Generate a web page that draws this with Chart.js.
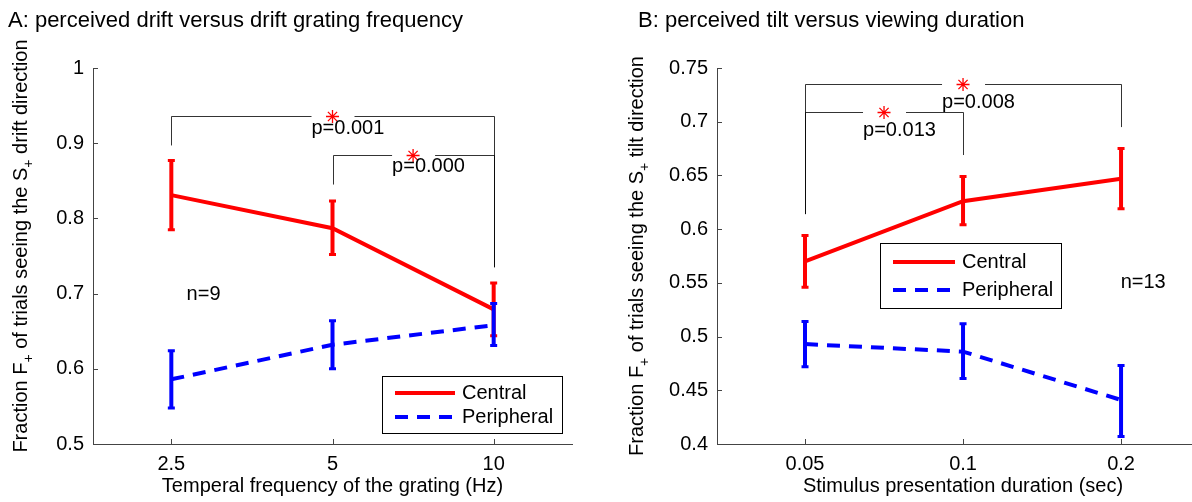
<!DOCTYPE html>
<html>
<head>
<meta charset="utf-8">
<script src="https://cdn.jsdelivr.net/npm/chart.js@4.4.0/dist/chart.umd.min.js"></script>
<style>
  html, body { margin: 0; padding: 0; background: #fff; overflow: hidden; }
  #wrapA { position: absolute; left: 0; top: 0; width: 600px; height: 502px; }
  #wrapB { position: absolute; left: 600px; top: 0; width: 592px; height: 502px; }
</style>
</head>
<body>
<div id="wrapA"><canvas id="chartA"></canvas></div>
<div id="wrapB"><canvas id="chartB"></canvas></div>
<script>
// ---- data, panel A ----
const freqLabels = ['2.5', '5', '10']
const centralA = [0.831, 0.787, 0.679]
const centralALow = [0.785, 0.752, 0.644]
const centralAHigh = [0.877, 0.823, 0.714]
const peripheralA = [0.586, 0.632, 0.658]
const peripheralALow = [0.548, 0.600, 0.631]
const peripheralAHigh = [0.624, 0.664, 0.687]
const yTicksA = [0.5, 0.6, 0.7, 0.8, 0.9, 1]

// ---- data, panel B ----
const durLabels = ['0.05', '0.1', '0.2']
const centralB = [0.570, 0.626, 0.647]
const centralBLow = [0.546, 0.604, 0.619]
const centralBHigh = [0.594, 0.649, 0.675]
const peripheralB = [0.493, 0.486, 0.441]
const peripheralBLow = [0.472, 0.461, 0.407]
const peripheralBHigh = [0.514, 0.512, 0.473]
const yTicksB = [0.4, 0.45, 0.5, 0.55, 0.6, 0.65, 0.7, 0.75]

const seriesNames = ['Central', 'Peripheral']

// significance brackets: from/to are category indexes
const bracketsA = [
  {from: 0, to: 2, y: 0.936, leftEnd: 0.897, rightEnd: 0.735, textY: 0.920, p: 'p=0.001'},
  {from: 1, to: 2, y: 0.884, leftEnd: 0.845, rightEnd: 0.735, textY: 0.869, p: 'p=0.000'}
]
const bracketsB = [
  {from: 0, to: 2, y: 0.735, leftEnd: 0.614, rightEnd: 0.695, textY: 0.718, p: 'p=0.008'},
  {from: 0, to: 1, y: 0.709, leftEnd: 0.614, rightEnd: 0.669, textY: 0.692, p: 'p=0.013'}
]

const FONT = '"Liberation Sans", Arial, Helvetica, sans-serif'
const FS = 20
const RED = '#ff0000'
const BLUE = '#0000ff'
const AXIS = '#444'

function fmtTick(v){
  return String(parseFloat(v.toFixed(2)))
}

// draws text pieces with subscripts, rotated -90deg, centred at cx,cy (baseline at cx)
function drawRotatedLabel(ctx, parts, cx, cy){
  ctx.save()
  ctx.translate(cx, cy)
  ctx.rotate(-Math.PI/2)
  let w = 0
  parts.forEach(p => {
    ctx.font = (p.sub ? '14px ' : FS + 'px ') + FONT
    w += ctx.measureText(p.t).width
  })
  let x = -w/2
  ctx.fillStyle = '#000'
  ctx.textBaseline = 'alphabetic'
  ctx.textAlign = 'left'
  parts.forEach(p => {
    ctx.font = (p.sub ? '14px ' : FS + 'px ') + FONT
    ctx.fillText(p.t, x, p.sub ? 6 : 0)
    x += ctx.measureText(p.t).width
  })
  ctx.restore()
}

function drawAsterisk(ctx, x, y, r){
  ctx.save()
  ctx.strokeStyle = RED
  ctx.lineWidth = 1.3
  ctx.beginPath()
  for(let k = 0; k < 4; k++){
    const a = k*Math.PI/4
    ctx.moveTo(x - r*Math.cos(a), y - r*Math.sin(a))
    ctx.lineTo(x + r*Math.cos(a), y + r*Math.sin(a))
  }
  ctx.stroke()
  ctx.restore()
}

const panelDecor = {
  id: 'panelDecor',
  afterDatasetDraw(chart, args, opts){
    const err = opts.errors[args.index]
    if(!err) return
    const ctx = chart.ctx
    const ys = chart.scales.y
    const color = chart.data.datasets[args.index].borderColor
    ctx.save()
    ctx.strokeStyle = color
    ctx.lineCap = 'butt'
    args.meta.data.forEach((pt, i) => {
      const yl = ys.getPixelForValue(err.low[i])
      const yh = ys.getPixelForValue(err.high[i])
      ctx.lineWidth = 4
      ctx.beginPath()
      ctx.moveTo(pt.x, yl)
      ctx.lineTo(pt.x, yh)
      ctx.stroke()
      ctx.lineWidth = 3
      ctx.beginPath()
      ctx.moveTo(pt.x - 3.5, yl); ctx.lineTo(pt.x + 3.5, yl)
      ctx.moveTo(pt.x - 3.5, yh); ctx.lineTo(pt.x + 3.5, yh)
      ctx.stroke()
    })
    ctx.restore()
  },
  afterDraw(chart, args, opts){
    const ctx = chart.ctx
    const xs = chart.scales.x, ys = chart.scales.y
    const area = chart.chartArea
    ctx.save()

    // inward tick marks
    ctx.strokeStyle = AXIS
    ctx.lineWidth = 1
    ctx.beginPath()
    ys.ticks.forEach(t => {
      const y = Math.round(ys.getPixelForValue(t.value)) + 0.5
      ctx.moveTo(area.left, y); ctx.lineTo(area.left + 5, y)
    })
    xs.ticks.forEach(t => {
      const x = Math.round(xs.getPixelForValue(t.value)) + 0.5
      ctx.moveTo(x, area.bottom); ctx.lineTo(x, area.bottom - 5)
    })
    ctx.stroke()

    // brackets
    opts.brackets.forEach(b => {
      const x0 = Math.round(xs.getPixelForValue(b.from)) + 0.5
      const x1 = Math.round(xs.getPixelForValue(b.to)) + 0.5
      const y = Math.round(ys.getPixelForValue(b.y)) + 0.5
      const mid = (xs.getPixelForValue(b.from) + xs.getPixelForValue(b.to))/2
      ctx.strokeStyle = '#000'
      ctx.lineWidth = 0.8
      ctx.beginPath()
      ctx.moveTo(x0, ys.getPixelForValue(b.leftEnd)); ctx.lineTo(x0, y); ctx.lineTo(mid - 21, y)
      ctx.moveTo(mid + 22, y); ctx.lineTo(x1, y); ctx.lineTo(x1, ys.getPixelForValue(b.rightEnd))
      ctx.stroke()
      drawAsterisk(ctx, mid, y, 6.5)
      ctx.fillStyle = '#000'
      ctx.font = FS + 'px ' + FONT
      ctx.textAlign = 'left'
      ctx.textBaseline = 'middle'
      ctx.fillText(b.p, mid - 21, ys.getPixelForValue(b.textY))
    })

    // n label
    ctx.fillStyle = '#000'
    ctx.font = FS + 'px ' + FONT
    ctx.textAlign = 'center'
    ctx.textBaseline = 'middle'
    ctx.fillText(opts.nText, xs.getPixelForValue(opts.nX), ys.getPixelForValue(opts.nY))

    // legend box
    const lg = opts.legend
    ctx.fillStyle = '#fff'
    ctx.fillRect(lg.x, lg.y, lg.w, lg.h)
    ctx.strokeStyle = '#000'
    ctx.lineWidth = 1
    ctx.strokeRect(lg.x + 0.5, lg.y + 0.5, lg.w, lg.h)
    chart.data.datasets.forEach((ds, i) => {
      const ly = lg.y + lg.rowY[i]
      ctx.strokeStyle = ds.borderColor
      ctx.lineWidth = 4
      ctx.setLineDash(ds.borderDash || [])
      ctx.beginPath()
      ctx.moveTo(lg.x + 13, ly); ctx.lineTo(lg.x + 13 + lg.sample, ly)
      ctx.stroke()
      ctx.setLineDash([])
      ctx.fillStyle = '#000'
      ctx.textAlign = 'left'
      ctx.textBaseline = 'middle'
      ctx.fillText(ds.label, lg.x + 20 + lg.sample, ly)
    })

    // panel title
    ctx.font = '22px ' + FONT
    ctx.textAlign = 'left'
    ctx.textBaseline = 'alphabetic'
    ctx.fillText(opts.title, opts.titleX, 27)

    // x axis title
    ctx.font = FS + 'px ' + FONT
    ctx.textAlign = 'center'
    ctx.textBaseline = 'alphabetic'
    ctx.fillText(opts.xTitle, xs.getPixelForValue(1), 492)

    // y axis title with subscripts
    drawRotatedLabel(ctx, [
      {t: 'Fraction F'}, {t: '+', sub: true},
      {t: ' of trials seeing the S'}, {t: '+', sub: true},
      {t: ' ' + opts.yWord + ' direction'}
    ], opts.yTitleX, opts.yTitleY)

    ctx.restore()
  }
}

function makePanel(id, cfg){
  return new Chart(document.getElementById(id), {
    type: 'line',
    data: {
      datasets: [
        {label: seriesNames[0], data: cfg.central.map((v, i) => ({x: i, y: v})),
         borderColor: RED, borderWidth: 4, pointRadius: 0, order: 2, fill: false, tension: 0},
        {label: seriesNames[1], data: cfg.peripheral.map((v, i) => ({x: i, y: v})),
         borderColor: BLUE, borderWidth: 4, borderDash: [13, 9], pointRadius: 0, order: 1, fill: false, tension: 0}
      ]
    },
    options: {
      responsive: true,
      maintainAspectRatio: false,
      animation: false,
      events: [],
      layout: {padding: {top: 68, right: cfg.padRight, left: 0, bottom: 0}},
      plugins: {
        legend: {display: false},
        tooltip: {enabled: false},
        panelDecor: {
          errors: [cfg.centralErr, cfg.peripheralErr],
          brackets: cfg.brackets,
          nText: cfg.nText, nX: cfg.nX, nY: cfg.nY,
          legend: cfg.legend,
          title: cfg.title, titleX: cfg.titleX,
          xTitle: cfg.xTitle,
          yWord: cfg.yWord, yTitleX: cfg.yTitleX, yTitleY: cfg.yTitleY
        }
      },
      scales: {
        x: {
          type: 'linear', min: cfg.xMin, max: cfg.xMax,
          afterBuildTicks: s => { s.ticks = cfg.labels.map((l, i) => ({value: i})) },
          afterFit: s => { s.height = 58 },
          grid: {display: true, drawOnChartArea: false, drawTicks: false},
          border: {display: true, color: AXIS, width: 1},
          ticks: {
            callback: v => cfg.labels[v],
            color: '#000', padding: 8, maxRotation: 0,
            font: {family: FONT, size: FS}
          }
        },
        y: {
          type: 'linear', min: cfg.yTicks[0], max: cfg.yTicks[cfg.yTicks.length - 1],
          afterBuildTicks: s => { s.ticks = cfg.yTicks.map(v => ({value: v})) },
          afterFit: s => { s.width = cfg.yWidth },
          grid: {display: true, drawOnChartArea: false, drawTicks: false},
          border: {display: true, color: AXIS, width: 1},
          ticks: {
            callback: v => fmtTick(v),
            color: '#000', padding: 9,
            font: {family: FONT, size: FS}
          }
        }
      }
    },
    plugins: [panelDecor]
  })
}

makePanel('chartA', {
  labels: freqLabels, yTicks: yTicksA,
  central: centralA, peripheral: peripheralA,
  centralErr: {low: centralALow, high: centralAHigh},
  peripheralErr: {low: peripheralALow, high: peripheralAHigh},
  brackets: bracketsA,
  xMin: -0.486, xMax: 2.486, yWidth: 93, padRight: 28,
  nText: 'n=9', nX: 0.2, nY: 0.699,
  legend: {x: 382, y: 376, w: 180, h: 57, rowY: [17, 41], sample: 60},
  title: 'A: perceived drift versus drift grating frequency', titleX: 8,
  xTitle: 'Temperal frequency of the grating (Hz)',
  yWord: 'drift', yTitleX: 27, yTitleY: 246
})

makePanel('chartB', {
  labels: durLabels, yTicks: yTicksB,
  central: centralB, peripheral: peripheralB,
  centralErr: {low: centralBLow, high: centralBHigh},
  peripheralErr: {low: peripheralBLow, high: peripheralBHigh},
  brackets: bracketsB,
  xMin: -0.557, xMax: 2.449, yWidth: 117, padRight: 0,
  nText: 'n=13', nX: 2.14, nY: 0.55,
  legend: {x: 280, y: 243, w: 181, h: 65, rowY: [19, 47], sample: 62},
  title: 'B: perceived tilt versus viewing duration', titleX: 38,
  xTitle: 'Stimulus presentation duration (sec)',
  yWord: 'tilt', yTitleX: 43, yTitleY: 256
})
</script>
</body>
</html>
